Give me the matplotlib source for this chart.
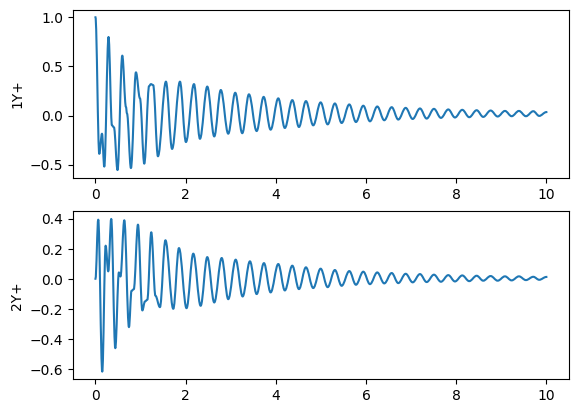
import matplotlib
matplotlib.use("Agg")
import matplotlib.pyplot as plt
from matplotlib.path import Path
from matplotlib.patches import PathPatch

# Top series (1Y+): turning points (time, value)
t1 = [0.0, 0.085, 0.145, 0.196, 0.29, 0.366, 0.41, 0.49, 0.595, 0.676, 0.70,
      0.787, 0.898, 0.987, 1.083, 1.19, 1.23, 1.28, 1.386, 1.563, 1.70, 1.874,
      2.007, 2.185, 2.318, 2.48, 2.635, 2.78, 2.945, 3.10, 3.256, 3.404, 3.575,
      3.73, 3.885, 4.055, 4.20, 4.366, 4.513, 4.668, 4.83, 4.994, 5.15, 5.31,
      5.46, 5.63, 5.777, 5.94, 6.088, 6.25, 6.405, 6.57, 6.716, 6.88, 7.035,
      7.197, 7.345, 7.507, 7.662, 7.825, 7.973, 8.135, 8.29, 8.454, 8.60,
      8.764, 8.92, 9.082, 9.23, 9.392, 9.547, 9.71, 9.842, 10.0]
y1 = [1.0, -0.39, -0.185, -0.52, 0.80, -0.10, -0.12, -0.555, 0.61, 0.088, 0.02,
      -0.535, 0.44, 0.175, -0.49, 0.30, 0.32, 0.31, -0.415, 0.345, -0.34, 0.345,
      -0.27, 0.32, -0.237, 0.295, -0.213, 0.26, -0.185, 0.232, -0.18, 0.216, -0.158,
      0.19, -0.144, 0.175, -0.127, 0.157, -0.117, 0.147, -0.10, 0.134, -0.09, 0.123,
      -0.076, 0.113, -0.066, 0.10, -0.059, 0.092, -0.048, 0.085, -0.041, 0.078, -0.035,
      0.072, -0.031, 0.068, -0.024, 0.062, -0.02, 0.058, -0.017, 0.054, -0.014,
      0.051, -0.01, 0.047, -0.007, 0.047, -0.007, 0.044, -0.004, 0.035]

# Bottom series (2Y+)
t2 = [0.0, 0.062, 0.151, 0.226, 0.284, 0.35, 0.44, 0.52, 0.555, 0.64, 0.743,
      0.80, 0.85, 0.943, 1.04, 1.098, 1.15, 1.238, 1.33, 1.43, 1.552, 1.726,
      1.852, 2.02, 2.17, 2.333, 2.48, 2.635, 2.80, 2.945, 3.11, 3.264, 3.426,
      3.575, 3.737, 3.885, 4.055, 4.20, 4.366, 4.513, 4.668, 4.83, 4.994, 5.15,
      5.31, 5.46, 5.63, 5.777, 5.94, 6.088, 6.25, 6.405, 6.57, 6.716, 6.88,
      7.035, 7.197, 7.345, 7.507, 7.662, 7.825, 7.973, 8.135, 8.29, 8.454, 8.60,
      8.764, 8.92, 9.082, 9.23, 9.392, 9.547, 9.71, 9.842, 10.0]
y2 = [0.0, 0.393, -0.618, 0.22, 0.049, 0.398, -0.462, 0.042, 0.015, 0.389, -0.322,
      -0.08, -0.07, 0.36, -0.211, -0.151, -0.14, 0.309, -0.113, -0.189, 0.256, -0.2,
      0.204, -0.196, 0.167, -0.18, 0.144, -0.158, 0.138, -0.136, 0.127, -0.118, 0.116,
      -0.102, 0.104, -0.091, 0.098, -0.078, 0.087, -0.069, 0.076, -0.062, 0.067, -0.056,
      0.058, -0.047, 0.051, -0.04, 0.047, -0.036, 0.042, -0.031, 0.038, -0.029, 0.033,
      -0.024, 0.031, -0.022, 0.027, -0.02, 0.024, -0.018, 0.022, -0.016, 0.02, -0.013,
      0.018, -0.013, 0.016, -0.011, 0.016, -0.009, 0.013, -0.007, 0.012]

COLOR = "#1f77b4"


def smooth_trace(ax, t, y):
    """Draw the turning points joined by Bezier segments with flat tangents."""
    verts = [(t[0], y[0])]
    codes = [Path.MOVETO]
    for i in range(1, len(t)):
        dt = t[i] - t[i - 1]
        verts += [(t[i - 1] + dt * 0.36, y[i - 1]),
                  (t[i] - dt * 0.36, y[i]),
                  (t[i], y[i])]
        codes += [Path.CURVE4] * 3
    patch = PathPatch(Path(verts, codes), fill=False, edgecolor=COLOR,
                      linewidth=1.5, joinstyle="round", capstyle="projecting")
    ax.add_patch(patch)
    ax.autoscale_view()


fig, (ax1, ax2) = plt.subplots(2, 1, figsize=(6.4, 4.8), dpi=100)
smooth_trace(ax1, t1, y1)
ax1.set_ylabel("1Y+")
smooth_trace(ax2, t2, y2)
ax2.set_ylabel("2Y+")
for ax in (ax1, ax2):
    ax.set_xticks([0, 2, 4, 6, 8, 10])
ax1.set_yticks([-0.5, 0.0, 0.5, 1.0])
ax2.set_yticks([-0.6, -0.4, -0.2, 0.0, 0.2, 0.4])
fig.savefig("out.png", dpi=100, bbox_inches="tight")
